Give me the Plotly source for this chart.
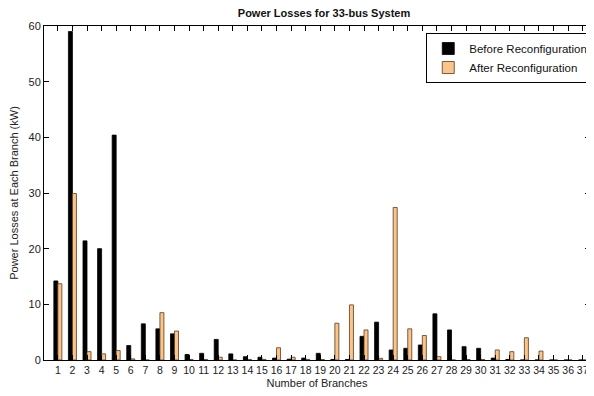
import plotly.graph_objects as go

branches = list(range(1, 38))
before = [14.2, 59.0, 21.4, 20.0, 40.4, 2.6, 6.5, 5.6, 4.7, 1.0,
          1.2, 3.7, 1.1, 0.6, 0.5, 0.35, 0.15, 0.35, 1.2, 0.1,
          0.1, 4.25, 6.8, 1.8, 2.1, 2.7, 8.3, 5.4, 2.4, 2.1,
          0.35, 0.1, 0.0, 0.0, 0.0, 0.0, 0.0]
after = [13.7, 29.9, 1.5, 1.1, 1.7, 0.2, 0.0, 8.5, 5.2, 0.1,
         0.1, 0.5, 0.0, 0.1, 0.1, 2.2, 0.5, 0.1, 0.1, 6.6,
         9.9, 5.4, 0.3, 27.4, 5.6, 4.4, 0.6, 0.0, 0.1, 0.1,
         1.8, 1.5, 4.0, 1.6, 0.0, 0.0, 0.0]
tick_labels = [str(b) for b in branches]

FONT = "Liberation Sans, Arial, sans-serif"

fig = go.Figure()
fig.add_trace(go.Bar(x=branches, y=before, name="Before Reconfiguration",
                     marker=dict(color="#000000", line=dict(color="#000000", width=0.8))))
fig.add_trace(go.Bar(x=branches, y=after, name="After Reconfiguration",
                     marker=dict(color="#F9C58D", line=dict(color="#5a3a1a", width=0.8))))

# page body has an 8px margin, so the figure is shifted by 8px right/down
fig.update_layout(
    width=594, height=396,
    margin=dict(l=36, r=12, t=18, b=44, autoexpand=False),
    paper_bgcolor="white", plot_bgcolor="white",
    barmode="group", bargap=0.45, bargroupgap=0,
    font=dict(family=FONT, size=11, color="#222222"),
    title=dict(text="<b>Power Losses for 33-bus System</b>", x=0.532, xanchor="center",
               y=0.988, yanchor="middle", font=dict(family=FONT, size=11, color="#111111")),
    showlegend=True,
    legend=dict(x=1.006, xanchor="right", y=0.979, yanchor="top",
                bordercolor="#000000", borderwidth=1, bgcolor="white",
                font=dict(family=FONT, size=11.5, color="#111111"),
                tracegroupgap=0, itemwidth=32),
)
fig.update_xaxes(
    range=[0.05, 37.5], tickmode="array", tickvals=branches, ticktext=tick_labels,
    tickangle=0, ticks="inside", ticklen=5, tickcolor="#000", showline=True, linecolor="#000",
    linewidth=1, mirror="ticks", showgrid=False, zeroline=False,
    title=dict(text="Number of Branches", standoff=4, font=dict(size=11)),
    tickfont=dict(size=10.5),
)
fig.update_yaxes(
    range=[0, 60], tickvals=[0, 10, 20, 30, 40, 50, 60],
    ticks="inside", ticklen=5, tickcolor="#000", showline=True, linecolor="#000",
    linewidth=1, mirror="ticks", showgrid=False, zeroline=False,
    title=dict(text="Power Losses at Each Branch (kW)", standoff=8, font=dict(size=11)),
    tickfont=dict(size=11),
)

fig.write_html("out.html")
